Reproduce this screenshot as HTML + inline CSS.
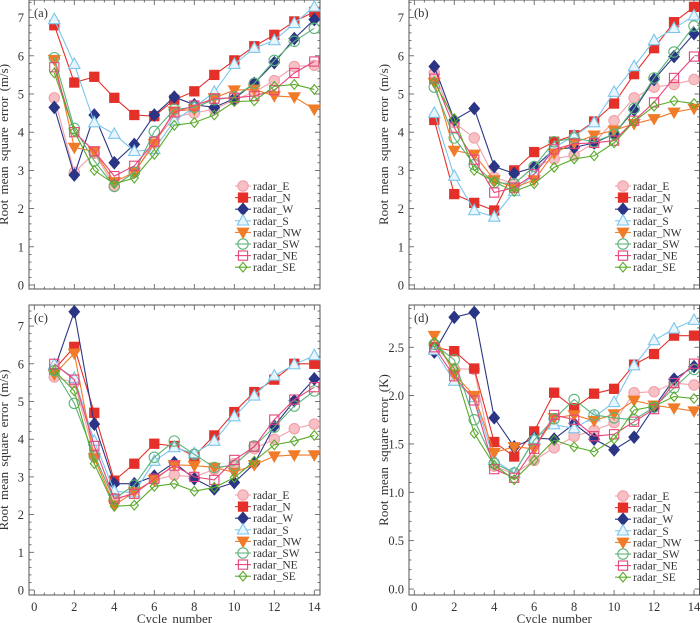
<!DOCTYPE html>
<html><head><meta charset="utf-8">
<style>
html,body{margin:0;padding:0;background:#fff;}
svg{display:block;font-family:"Liberation Serif",serif;}
</style></head>
<body>
<svg id="chart" width="700" height="623" viewBox="0 0 700 623" xmlns="http://www.w3.org/2000/svg"></svg>
<script>
const cycles=[1,2,3,4,5,6,7,8,9,10,11,12,13,14];
const seriesNames=["radar_E","radar_N","radar_W","radar_S","radar_NW","radar_SW","radar_NE","radar_SE"];
const xTicks=[0,2,4,6,8,10,12,14];
const yTicksWind=[0,1,2,3,4,5,6,7];
const yTicksTemp=[0,0.5,1,1.5,2,2.5];
const yTickLabelsTemp=["0.0","0.5","1.0","1.5","2.0","2.5"];

const aE=[4.9,2.95,3.45,2.6,2.95,3.75,4.4,4.5,4.6,4.85,5.05,5.35,5.72,5.75];
const aN=[6.8,5.3,5.45,4.9,4.45,4.42,4.85,5.07,5.5,5.88,6.25,6.55,6.9,7.15];
const aW=[4.65,2.88,4.45,3.2,3.68,4.45,4.92,4.72,4.65,4.88,5.28,5.82,6.45,6.95];
const aS=[6.95,5.78,4.25,3.95,3.5,3.55,4.3,4.65,5.05,5.78,6.2,6.4,6.85,7.28];
const aNW=[5.9,3.6,3.5,2.7,2.95,3.7,4.55,4.6,4.9,5.1,5.12,4.95,4.92,4.6];
const aSW=[5.95,4.1,3.25,2.58,2.95,4.02,4.6,4.65,4.85,4.92,5.28,5.88,6.38,6.72];
const aNE=[5.7,4.0,3.5,2.85,3.12,3.75,4.52,4.7,4.88,4.9,4.95,5.1,5.55,5.85];
const aSE=[5.55,4.02,3.0,2.65,2.8,3.42,4.18,4.25,4.45,4.8,4.82,5.2,5.25,5.12];

const bE=[5.55,4.25,3.85,2.82,2.65,3.1,3.3,3.4,3.72,4.3,4.9,5.18,5.25,5.38];
const bN=[4.32,2.38,2.15,1.95,3.0,3.48,3.75,3.92,4.28,4.75,5.52,6.2,6.88,7.28];
const bW=[5.72,4.32,4.62,3.1,2.92,3.08,3.55,3.6,3.72,3.95,4.58,5.38,5.98,6.58];
const bS=[4.5,2.85,1.95,1.78,2.45,2.9,3.6,3.9,4.25,5.05,5.72,6.4,6.72,7.05];
const bNW=[5.3,3.52,3.42,2.75,2.55,2.75,3.45,3.72,3.92,4.05,4.22,4.35,4.52,4.62];
const bSW=[5.18,3.85,3.15,2.68,2.65,3.1,3.75,3.85,3.75,3.95,4.62,5.42,6.1,6.78];
const bNE=[5.4,4.12,3.28,2.42,2.55,2.9,3.55,3.7,3.72,3.78,4.3,4.78,5.42,5.98];
const bSE=[5.32,4.35,3.0,2.7,2.45,2.65,3.08,3.3,3.38,3.72,4.28,4.68,4.82,4.75];

const cE=[5.65,5.5,3.6,2.35,2.62,2.92,3.05,3.0,3.2,3.35,3.75,4.0,4.28,4.4];
const cN=[5.85,6.45,4.7,2.9,3.35,3.88,3.82,3.55,4.1,4.72,5.25,5.58,6.0,6.0];
const cW=[5.85,7.38,4.4,2.82,2.82,3.02,3.38,2.95,2.68,2.85,3.35,4.35,5.02,5.6];
const cS=[5.98,5.62,3.95,2.62,2.58,3.42,3.78,3.62,3.95,4.6,5.15,5.68,5.98,6.22];
const cNW=[5.72,6.28,3.5,2.25,2.6,2.92,3.32,3.3,3.25,3.12,3.32,3.55,3.58,3.58];
const cSW=[5.82,4.95,3.55,2.42,2.78,3.52,3.95,3.6,3.25,3.3,3.82,4.32,4.88,5.28];
const cNE=[6.0,5.58,3.82,2.42,2.55,2.95,3.3,3.0,2.92,3.45,3.8,4.52,5.05,5.38];
const cSE=[5.82,5.28,3.35,2.22,2.25,2.75,2.82,2.62,2.72,2.98,3.42,3.85,3.95,4.1];

const dE=[2.53,2.28,2.27,1.27,1.19,1.33,1.46,1.58,1.64,1.72,2.03,2.04,2.13,2.11];
const dN=[2.5,2.46,2.28,1.52,1.37,1.63,2.03,1.87,2.02,2.07,2.32,2.43,2.62,2.62];
const dW=[2.45,2.81,2.86,1.77,1.47,1.56,1.55,1.71,1.55,1.44,1.57,1.88,2.17,2.3];
const dS=[2.47,2.15,1.98,1.33,1.2,1.55,1.7,1.66,1.78,1.93,2.31,2.57,2.69,2.78];
const dNW=[2.62,2.22,2.0,1.41,1.47,1.45,1.77,1.8,1.74,1.81,1.95,1.9,1.87,1.84];
const dSW=[2.53,2.37,1.75,1.3,1.2,1.54,1.76,1.96,1.8,1.77,1.75,1.88,2.08,2.27];
const dNE=[2.5,2.2,1.95,1.24,1.15,1.45,1.8,1.75,1.58,1.6,1.73,1.86,2.13,2.33];
const dSE=[2.55,2.28,1.61,1.28,1.13,1.33,1.54,1.47,1.42,1.55,1.85,1.89,1.99,1.97];

const NS="http://www.w3.org/2000/svg";
const svg=document.getElementById('chart');
function el(tag,attrs,parent){const e=document.createElementNS(NS,tag);for(const k in attrs)e.setAttribute(k,attrs[k]);(parent||svg).appendChild(e);return e;}

const styles=[
 {m:'circle',stroke:'#f3a0a8',fill:'#f7c0c5',line:'#f3a0a8'},
 {m:'square',stroke:'#e5302a',fill:'#e5302a',line:'#e5302a'},
 {m:'diamond',stroke:'#2b3585',fill:'#2b3585',line:'#2b3585'},
 {m:'tri',stroke:'#7cc6ec',fill:'#e8f5fc',line:'#7cc6ec'},
 {m:'tridown',stroke:'#f07b28',fill:'#f07b28',line:'#f07b28'},
 {m:'circle',stroke:'#5cb47a',fill:'none',line:'#5cb47a'},
 {m:'square',stroke:'#e8457c',fill:'none',line:'#e8457c'},
 {m:'diamond',stroke:'#5aab2a',fill:'none',line:'#5aab2a',small:true}
];
function marker(g,s,x,y){
  let e;const r=s.small?4:5.2;
  if(s.m==='circle')e=el('circle',{cx:x,cy:y,r:r},g);
  else if(s.m==='square')e=el('rect',{x:x-r+0.6,y:y-r+0.6,width:2*r-1.2,height:2*r-1.2},g);
  else if(s.m==='diamond')e=el('polygon',{points:`${x},${y-r-0.8} ${x+r},${y} ${x},${y+r+0.8} ${x-r},${y}`},g);
  else if(s.m==='tri')e=el('polygon',{points:`${x},${y-r-1} ${x+r+0.5},${y+r-1} ${x-r-0.5},${y+r-1}`},g);
  else e=el('polygon',{points:`${x},${y+r+0.5} ${x+r+0.5},${y-r+1} ${x-r-0.5},${y-r+1}`},g);
  e.setAttribute('stroke',s.stroke);e.setAttribute('fill',s.fill==='none'?'#fff':s.fill);e.setAttribute('fill-opacity',s.fill==='none'?0:1);e.setAttribute('stroke-width',1.1);
  return e;
}

function panel(cfg){
  const g=el('g',{});
  
  
  const xs=v=>cfg.x0+v*cfg.xu;
  const ys=v=>cfg.y0-(v-cfg.ymin)*cfg.yu;
  const fr=el('rect',{x:cfg.L,y:cfg.T,width:cfg.R-cfg.L,height:cfg.B-cfg.T,fill:'none',stroke:'#555','stroke-width':1},g);
  
  
  // x ticks
  for(let v=0;v<=14.01;v+=0.5){
    const X=xs(v);const len=(Math.abs(v-Math.round(v/2)*2)<0.01)?5:2.5;
    el('line',{x1:X,y1:cfg.B,x2:X,y2:cfg.B-len,stroke:'#555','stroke-width':0.8},g);
    el('line',{x1:X,y1:cfg.T,x2:X,y2:cfg.T+len,stroke:'#555','stroke-width':0.8},g);
  }
  xTicks.forEach(v=>{
    if(cfg.xlabels){
      const t=el('text',{x:xs(v),y:cfg.B+16,'font-size':12.5,'text-anchor':'middle',fill:'#333'},g);
      t.textContent=v;
      
      
    }
  });
  // y ticks
  const ymaxv=cfg.ymin+(cfg.y0-cfg.T)/cfg.yu;
  for(let v=cfg.ymin;v<=ymaxv+0.001;v+=cfg.minor){
    const Y=ys(v);const major=Math.abs(v/cfg.major-Math.round(v/cfg.major))<0.01;const len=major?5:2.5;
    el('line',{x1:cfg.L,y1:Y,x2:cfg.L+len,y2:Y,stroke:'#555','stroke-width':0.8},g);
    el('line',{x1:cfg.R,y1:Y,x2:cfg.R-len,y2:Y,stroke:'#555','stroke-width':0.8},g);
  }
  cfg.yticks.forEach((v,i)=>{
    const t=el('text',{x:cfg.L-5,y:ys(v)+4.5,'font-size':12.5,'text-anchor':'end',fill:'#333'},g);
    t.textContent=cfg.ylabels?cfg.ylabels[i]:v;
    
    
  });
  const yt=el('text',{x:0,y:0,'font-size':13,'text-anchor':'middle',fill:'#333',transform:`translate(${cfg.L-21},${(cfg.T+cfg.B)/2}) rotate(-90)`,'word-spacing':'2'},g);
  yt.textContent=cfg.ytitle;
  
  
  if(cfg.xlabels){
    const xt=el('text',{x:(cfg.L+cfg.R)/2,y:cfg.B+28,'font-size':13,'text-anchor':'middle',fill:'#333','word-spacing':'2'},g);
    xt.textContent='Cycle number';
    
    
  }
  const lab=el('text',{x:cfg.L+5,y:cfg.T+17,'font-size':12.5,fill:'#333'},g);
  lab.textContent='('+cfg.id+')';
  
  
  // series
  cfg.data.forEach((arr,si)=>{
    const s=styles[si];
    const sg=el('g',{},g);
    
    
    const pts=arr.map((v,i)=>xs(cycles[i])+','+ys(v)).join(' ');
    el('polyline',{points:pts,fill:'none',stroke:s.line,'stroke-width':1.1},sg);
    arr.forEach((v,i)=>{
      const m=marker(sg,s,xs(cycles[i]),ys(v));
      
      
    });
  });
  // legend
  const lg=el('g',{},g);
  
  
  seriesNames.forEach((n,i)=>{
    const Y=cfg.legY+i*11.6;const s=styles[i];
    const eg=el('g',{},lg);
    
    
    el('line',{x1:cfg.legX-8,y1:Y,x2:cfg.legX+8,y2:Y,stroke:s.line,'stroke-width':1.1},eg);
    marker(eg,s,cfg.legX,Y);
    const t=el('text',{x:cfg.legX+10,y:Y+4,'font-size':11.5,fill:'#333'},eg);
    t.textContent=n;
  });
}

panel({id:'a',L:29,R:320,T:0,B:289,x0:34.3,xu:20,y0:285,ymin:0,yu:38.2,minor:0.2,major:1,yticks:yTicksWind,ytitle:'Root mean square error (m/s)',xlabels:false,data:[aE,aN,aW,aS,aNW,aSW,aNE,aSE],legX:243,legY:186});
panel({id:'b',L:409,R:699.5,T:0,B:289,x0:414.3,xu:19.98,y0:285,ymin:0,yu:38.2,minor:0.2,major:1,yticks:yTicksWind,ytitle:'Root mean square error (m/s)',xlabels:false,data:[bE,bN,bW,bS,bNW,bSW,bNE,bSE],legX:623,legY:186});
panel({id:'c',L:29,R:320,T:305,B:595,x0:34.3,xu:20,y0:590,ymin:0,yu:37.7,minor:0.2,major:1,yticks:yTicksWind,ytitle:'Root mean square error (m/s)',xlabels:true,data:[cE,cN,cW,cS,cNW,cSW,cNE,cSE],legX:243,legY:495});
panel({id:'d',L:409,R:699.5,T:305,B:595,x0:414.3,xu:19.98,y0:589,ymin:0,yu:96.7,minor:0.1,major:0.5,yticks:yTicksTemp,ylabels:yTickLabelsTemp,ytitle:'Root mean square error (K)',xlabels:true,data:[dE,dN,dW,dS,dNW,dSW,dNE,dSE],legX:623,legY:496});
</script>
</body></html>
